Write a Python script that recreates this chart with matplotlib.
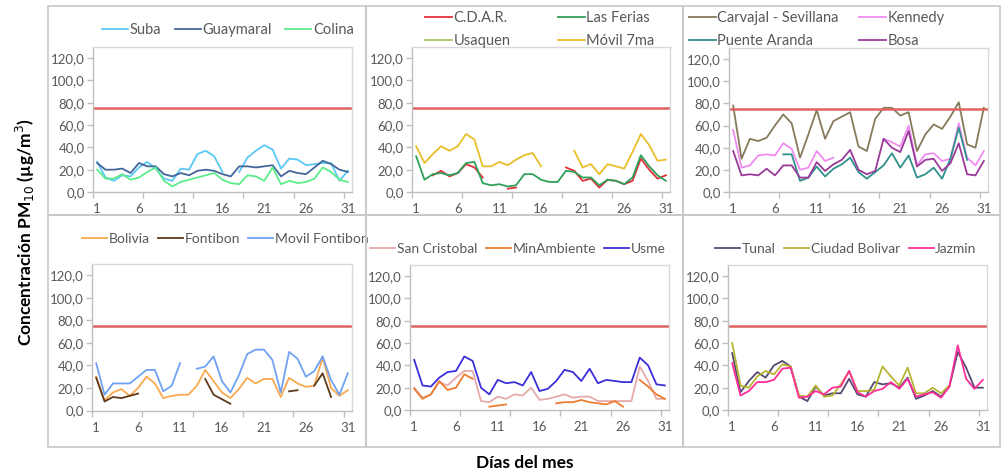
import numpy as np
import matplotlib
matplotlib.use('Agg')
import matplotlib.pyplot as plt
from matplotlib.patches import Rectangle

plt.rcParams['font.family'] = ['Lato', 'DejaVu Sans']

n = np.nan
days = np.arange(1, 32)

# panel 1
suba = [27,13,10,15,14,22,27,21,12,10,21,20,34,37,32,18,n,18,31,37,42,38,21,30,29,24,25,26,26,10,19]
guaymaral = [26,20,20,21,17,26,23,23,16,14,17,15,19,20,19,16,14,23,23,22,23,24,14,19,17,16,22,28,25,20,18]
colina = [20,12,12,16,11,13,18,22,10,5,9,11,13,15,17,11,8,7,15,14,10,22,7,10,8,9,12,22,18,11,9]
# panel 2
cdar = [n,n,15,19,14,17,25,22,13,n,n,3,4,n,n,n,n,n,22,19,10,12,4,11,10,7,10,30,20,12,15]
ferias = [32,11,16,17,15,17,26,27,8,6,7,5,6,16,16,11,9,9,19,18,13,13,6,11,10,7,13,33,23,15,10]
usaquen = [n]*31
movil7 = [41,26,34,41,37,41,52,47,23,23,27,24,29,33,35,23,n,n,n,37,22,25,16,25,23,21,36,52,42,28,29]
# panel 3
carvajal = [78,30,48,46,49,60,70,62,31,52,74,48,64,68,72,41,37,66,76,76,69,72,37,52,61,57,68,81,43,40,76]
kennedy = [56,22,24,33,34,33,44,39,20,22,37,28,31,n,n,n,n,n,48,45,41,60,24,34,35,28,30,62,31,24,37]
puente = [n,n,n,n,n,n,34,34,10,13,23,14,21,25,31,18,12,18,24,35,22,33,13,16,22,12,30,58,29,n,n]
bosa = [37,15,16,15,21,15,24,24,13,13,27,19,25,29,38,20,16,19,48,40,36,55,23,29,30,19,26,44,16,15,28]
# panel 4
bolivia = [30,9,16,19,13,20,30,24,11,13,14,14,22,36,26,16,11,19,29,24,28,28,12,29,24,21,22,47,20,13,18]
fontibon = [29,8,12,11,13,15,n,n,n,n,n,n,n,28,14,10,6,n,n,n,n,n,n,17,18,n,22,33,12,n,n]
movilf = [42,14,24,24,24,30,36,36,17,22,42,n,37,39,48,26,16,31,50,54,54,45,16,52,46,30,35,48,27,14,33]
# panel 5
sancris = [20,11,14,25,22,29,35,35,8,7,12,10,14,13,20,9,10,12,14,11,12,12,8,8,8,8,8,39,26,10,10]
minamb = [19,10,14,26,18,20,32,28,n,3,4,5,n,n,n,n,n,6,7,7,9,7,6,5,8,3,n,27,21,14,10]
usme = [45,22,21,29,34,35,48,44,20,14,27,24,25,22,34,17,19,26,36,34,26,37,24,27,26,25,25,47,40,23,22]
# panel 6
tunal = [51,16,26,34,29,40,44,39,12,8,21,13,15,15,28,14,12,25,23,24,20,29,10,13,17,12,21,52,38,20,20]
cbolivar = [60,22,20,30,35,32,41,39,13,12,22,12,13,23,35,17,17,18,39,30,22,38,15,15,20,15,22,n,n,n,n]
jazmin = [42,13,17,25,25,27,37,38,11,12,17,14,20,21,35,16,12,17,19,25,19,28,12,14,16,11,21,58,28,19,27]

limite = 75

panels = [
    ([('Suba', suba, '#5BC8F5'), ('Guaymaral', guaymaral, '#44679B'), ('Colina', colina, '#5CED8A')], 3),
    ([('C.D.A.R.', cdar, '#E0303A'), ('Las Ferias', ferias, '#2EA05A'),
      ('Usaquen', usaquen, '#A8C66C'), ('Móvil 7ma', movil7, '#E8BE2A')], 2),
    ([('Carvajal - Sevillana', carvajal, '#857A5A'), ('Kennedy', kennedy, '#F08CF0'),
      ('Puente Aranda', puente, '#31918C'), ('Bosa', bosa, '#9A3A9A')], 2),
    ([('Bolivia', bolivia, '#F9A94F'), ('Fontibon', fontibon, '#5E3B1C'), ('Movil Fontibon', movilf, '#6FA2F2')], 3),
    ([('San Cristobal', sancris, '#E6AAAA'), ('MinAmbiente', minamb, '#ED7D31'), ('Usme', usme, '#3B2FD8')], 3),
    ([('Tunal', tunal, '#554A70'), ('Ciudad Bolivar', cbolivar, '#B6B531'), ('Jazmin', jazmin, '#FF2D9A')], 3),
]

W, H = 1002, 474
fig = plt.figure(figsize=(W / 100, H / 100), dpi=100)

# plot areas in pixels: left, right, top, bottom(y=0)
boxes = [(93, 352, 47, 192), (412, 670, 47, 192), (729, 988, 48, 192),
         (92, 352, 264, 410.5), (410, 669, 265, 410), (728, 987, 265, 410)]
# legend centers in pixels
leg_pos = [(228, 30), (540, 29.5), (817, 29.5), (225, 239), (518, 249), (846, 249)]
col_space = [0.9, 3.3, 1.4, 0.6, 0.6, 0.6]
leg_size = [10.5, 10.5, 10.5, 10, 10, 10]

# chart frames
for (x0, x1) in [(48, 366), (366, 683), (683, 1000)]:
    for (y0, y1) in [(6, 215), (215, 447)]:
        fig.patches.append(Rectangle((x0 / W, 1 - y1 / H), (x1 - x0) / W, (y1 - y0) / H,
                                     transform=fig.transFigure, fill=False,
                                     edgecolor='#C8C8C8', linewidth=1.2))

for i, ((series, ncol), (l, r, t, b), (lx, ly)) in enumerate(zip(panels, boxes, leg_pos)):
    ax = fig.add_axes([l / W, 1 - b / H, (r - l) / W, (b - t) / H])
    for name, vals, col in series:
        ax.plot(days, vals, color=col, lw=1.3, label=name)
    ax.axhline(limite, color='#DE6460', lw=1.8)
    ax.set_xlim(0.5, 31.5)
    ax.set_ylim(0, 130)
    ax.set_yticks(np.arange(0, 121, 20))
    ax.set_yticklabels(['{:.1f}'.format(v).replace('.', ',') for v in range(0, 121, 20)])
    ax.set_xticks(np.arange(1, 32, 5))
    ax.set_xticks(np.arange(0.5, 32, 6), minor=True)
    ax.tick_params(axis='x', which='major', length=0, pad=8, labelsize=9.5, labelcolor='#595959')
    ax.tick_params(axis='x', which='minor', length=4, color='#BFBFBF', width=1)
    ax.tick_params(axis='y', length=4, color='#BFBFBF', width=1, labelsize=9.5,
                   labelcolor='#595959', pad=2)
    for s in ax.spines.values():
        s.set_color('#D9D9D9')
        s.set_linewidth(1)
    ax.spines['left'].set_color('#BFBFBF')
    ax.spines['bottom'].set_color('#BFBFBF')
    handles, labels = ax.get_legend_handles_labels()
    if ncol == 2:
        # Excel fills legend rows first
        order = [0, 2, 1, 3]
        handles = [handles[k] for k in order]
        labels = [labels[k] for k in order]
    leg = ax.legend(handles, labels, loc='center', bbox_to_anchor=(lx / W, 1 - ly / H),
                    bbox_transform=fig.transFigure, ncol=ncol, frameon=False, fontsize=leg_size[i],
                    handlelength=1.8, handletextpad=0.12, columnspacing=col_space[i],
                    labelspacing=0.6, borderpad=0)
    for txt in leg.get_texts():
        txt.set_color('#595959')

fig.text(25 / W, 1 - 232 / H, 'Concentración PM$_{10}$ (µg/m$^3$)', rotation=90,
         ha='center', va='center', fontsize=12.5, fontweight='bold')
fig.text(525 / W, 1 - 463 / H, 'Días del mes', ha='center', va='center',
         fontsize=12.5, fontweight='bold')

fig.savefig('out.png', dpi=100)
